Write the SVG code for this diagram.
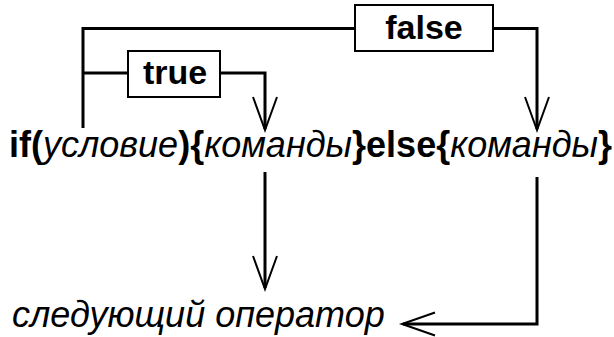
<svg xmlns="http://www.w3.org/2000/svg" width="614" height="337" viewBox="0 0 614 337">
<style>
.ln{fill:none;stroke:#000;stroke-width:3;stroke-linejoin:miter}
.ah{fill:none;stroke:#000;stroke-width:2;stroke-linejoin:miter}
.box{fill:#fff;stroke:#000;stroke-width:2}
.lbl{font-family:"Liberation Sans",Arial,sans-serif;font-weight:bold;font-size:34px;fill:#000;text-anchor:middle}
.code{font-family:"Liberation Sans",Arial,sans-serif;font-size:36px;fill:#000}
.b{font-weight:bold}
.i{font-style:italic}
</style>
<rect width="614" height="337" fill="#fff"/>
<g id="connectors">
<polyline class="ln" points="83,128 83,28.5 355,28.5"/>
<polyline class="ln" points="493,28.5 537,28.5 537,129"/>
<polyline class="ah" points="525,97 537,130 549,97"/>
<polyline class="ln" points="83,73 128,73"/>
<polyline class="ln" points="220,73 265,73 265,129"/>
<polyline class="ah" points="253,97 265,130 277,97"/>
<polyline class="ln" points="265,172 265,288"/>
<polyline class="ah" points="253,256 265,289 277,256"/>
<polyline class="ln" points="537,177 537,324 403,324"/>
<polyline class="ah" points="435,312.5 402,324 435,335.5"/>
</g>
<g id="node-false">
<rect class="box" x="355" y="5" width="138" height="46"/>
<text class="lbl" x="424" y="39">false</text>
</g>
<g id="node-true">
<rect class="box" x="128" y="51" width="92" height="46"/>
<text class="lbl" x="175" y="84">true</text>
</g>
<g id="node-statement">
<text class="code" x="9" y="157"><tspan class="b">if(</tspan><tspan class="i">условие</tspan><tspan class="b">){</tspan><tspan class="i">команды</tspan><tspan class="b">}else{</tspan><tspan class="i">команды</tspan><tspan class="b">}</tspan></text>
</g>
<g id="node-next">
<text class="code i" x="12" y="327">следующий оператор</text>
</g>
</svg>
